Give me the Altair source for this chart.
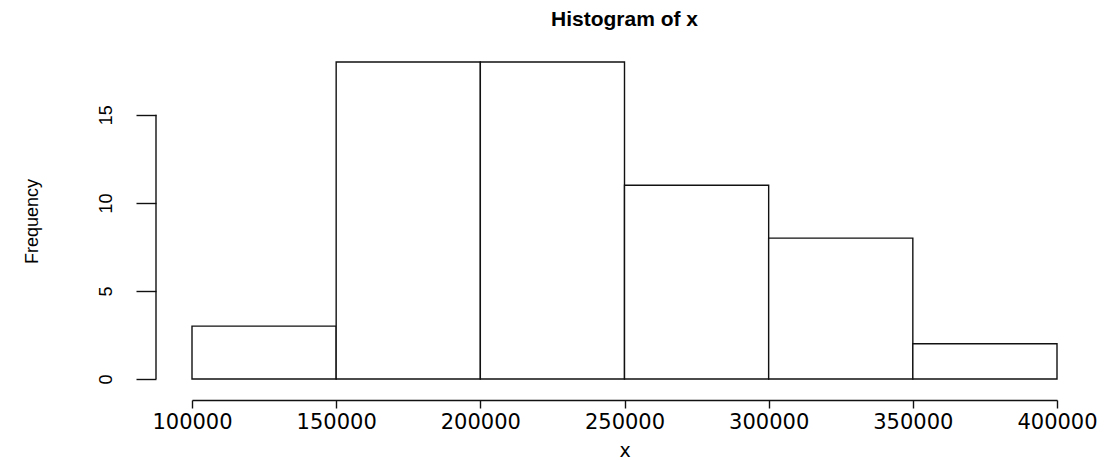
import altair as alt
import pandas as pd

bin_start = [100000, 150000, 200000, 250000, 300000, 350000]
bin_end = [150000, 200000, 250000, 300000, 350000, 400000]
counts = [3, 18, 18, 11, 8, 2]
x_ticks = [100000, 150000, 200000, 250000, 300000, 350000, 400000]
y_ticks = [0, 5, 10, 15]

df = pd.DataFrame({"start": bin_start, "end": bin_end, "count": counts})
axis_df = pd.DataFrame({"lo": [0], "hi": [15]})

FONT = "Liberation Sans"

xscale = alt.Scale(domain=[100000, 400000], nice=False, zero=False)
yscale = alt.Scale(domain=[0, 18], nice=False)

bars = alt.Chart(df).mark_bar(
    fill="white", stroke="#111111", strokeWidth=1.4
).encode(
    x=alt.X(
        "start:Q",
        scale=xscale,
        axis=alt.Axis(
            title="x",
            values=x_ticks,
            format="d",
            offset=21,
            tickSize=8,
            tickColor="#111111",
            domainColor="#111111",
            tickWidth=1.4,
            domainWidth=1.4,
            grid=False,
            labelFont="DejaVu Sans",
            labelFontSize=21,
            labelColor="#000000",
            labelPadding=3,
            labelFlush=False,
            labelOverlap=False,
            titleFont="DejaVu Sans",
            titleFontSize=19,
            titleFontWeight="normal",
            titleColor="#000000",
            titleBaseline="alphabetic",
            titleY=56,
        ),
    ),
    x2="end:Q",
    y=alt.Y(
        "count:Q",
        scale=yscale,
        axis=alt.Axis(
            title="Frequency",
            values=y_ticks,
            offset=36,
            domain=False,
            tickSize=20,
            tickColor="#111111",
            tickWidth=1.4,
            grid=False,
            labelAngle=270,
            labelFont=FONT,
            labelFontSize=18,
            labelColor="#000000",
            labelPadding=21,
            labelAlign="center",
            labelBaseline="bottom",
            titleFont=FONT,
            titleFontSize=18,
            titleFontWeight="normal",
            titleColor="#000000",
            titleAngle=270,
            titleAlign="center",
            titleBaseline="alphabetic",
            titleX=-119,
            titleY=159,
        ),
    ),
    y2=alt.datum(0),
)

yaxis_line = alt.Chart(axis_df).mark_rule(
    color="#111111", strokeWidth=1.4
).encode(
    x=alt.value(-36),
    y=alt.Y("lo:Q", scale=yscale),
    y2="hi:Q",
)

chart = alt.layer(bars, yaxis_line).properties(
    width=865,
    height=317,
    title=alt.TitleParams(
        "Histogram of x",
        font=FONT,
        fontSize=21,
        fontWeight="bold",
        color="#000000",
        anchor="middle",
        offset=31,
    ),
    background="white",
    autosize=alt.AutoSizeParams(type="none"),
    padding={"left": 184, "top": 54, "right": 53, "bottom": 82},
).configure_view(strokeWidth=0, stroke=None)

chart.save("out.html", embed_options={"renderer": "svg", "actions": False})
